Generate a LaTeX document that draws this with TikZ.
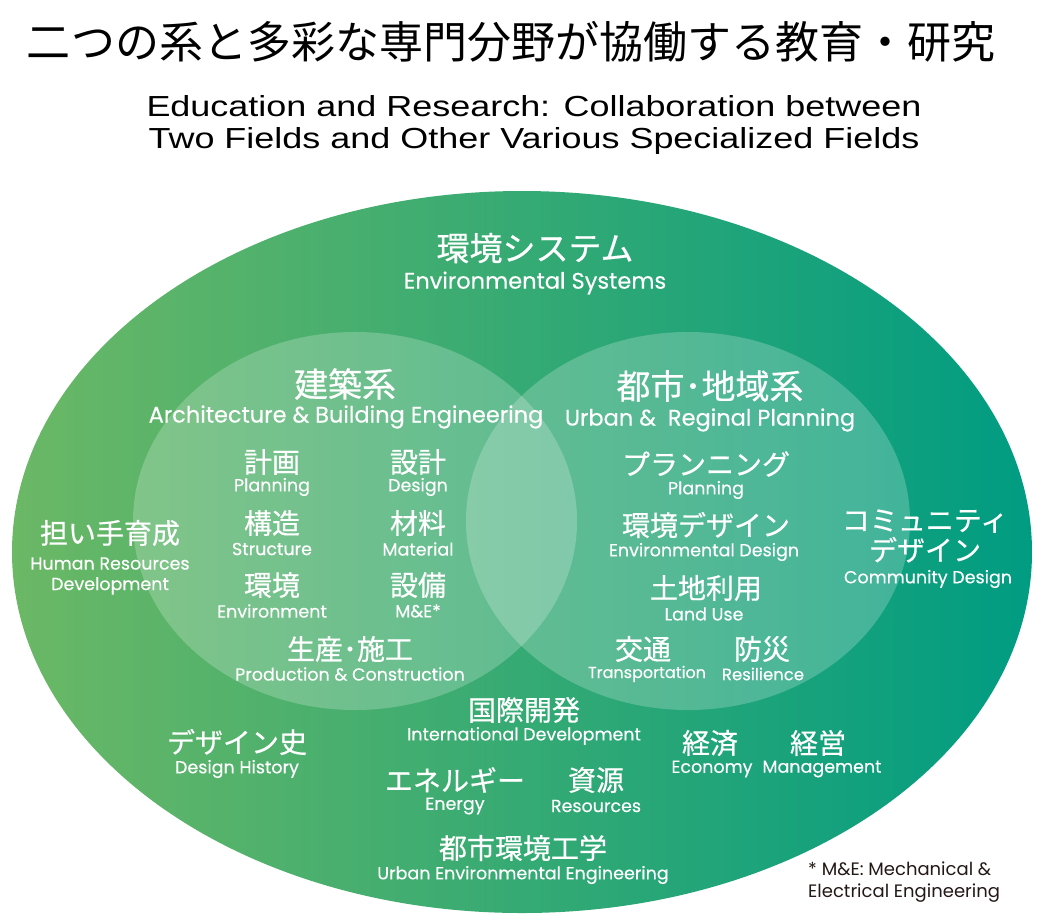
\documentclass[tikz,border=0pt]{standalone}
\usepackage{fontspec}
\newfontfamily\titlefont{Noto Sans CJK JP}
\newfontfamily\jpfont[FakeBold=0.5]{Noto Sans CJK JP}
\newfontfamily\enfont[FakeBold=0.3]{Poppins}
\newfontfamily\notefont{Poppins}
\newfontfamily\subfont[FakeStretch=1.24]{Liberation Sans}
\definecolor{outerL}{HTML}{6BB865}
\definecolor{outerM}{HTML}{08A970}
\definecolor{outerR}{HTML}{009C82}
\definecolor{noteText}{HTML}{231815}

\tikzset{
  jp/.style={text=white, inner sep=0pt, font=\jpfont\fontsize{28}{31}\selectfont},
  jpbig/.style={jp, font=\jpfont\fontsize{34}{37}\selectfont},
  en/.style={text=white, inner sep=0pt, font=\enfont\fontsize{17.5}{20.5}\selectfont},
  enbig/.style={en, font=\enfont\fontsize{22.5}{25}\selectfont},
  field/.style={fill=white, fill opacity=0.22},
}

\begin{document}
\begin{tikzpicture}[x=1pt, y=-1pt]
\useasboundingbox (0,0) rectangle (1040,913);

% Title and subtitle
\node[inner sep=0pt, font=\titlefont\fontsize{44}{48}\selectfont] (title) at (511,42) {二つの系と多彩な専門分野が協働する教育・研究};
\node[inner sep=0pt, align=center, font=\subfont\fontsize{29}{32}\selectfont] (subtitle) at (534,125)
  {Education and Research: Collaboration between\\Two Fields and Other Various Specialized Fields};

% Draw the big ellipse with the green gradient
\shade[left color=outerL, middle color=outerM, right color=outerR]
  (522,552) ellipse [x radius=510, y radius=361];

% Draw the two fields
\fill[field] (355,521) ellipse [x radius=222, y radius=189];
\fill[field] (688,521) ellipse [x radius=222, y radius=189];

% Environmental systems
\node[jpbig, font=\jpfont\fontsize{33}{36}\selectfont] (envsys) at (535,248) {環境システム};
\node[enbig] (envsysEn) at (535,283) {Environmental Systems};

% Architecture field
\node[jpbig] (arch) at (345,384) {建築系};
\node[enbig] (archEn) at (346,417) {Architecture \& Building Engineering};
\node[jp] (plan) at (272,462) {計画};
\node[en] (planEn) at (272,487) {Planning};
\node[jp] (design) at (418,462) {設計};
\node[en] (designEn) at (418,487) {Design};
\node[jp] (struct) at (272,523) {構造};
\node[en] (structEn) at (272,549) {Structure};
\node[jp] (mater) at (418,523) {材料};
\node[en] (materEn) at (418,549) {Material};
\node[jp] (envir) at (272,585) {環境};
\node[en] (envirEn) at (272,611) {Environment};
\node[jp] (mande) at (418,585) {設備};
\node[en] (mandeEn) at (418,611) {M\&E*};
\node[jp] (prod) at (350,649) {生産･施工};
\node[en] (prodEn) at (350,674) {Production \& Construction};

% Urban field
\node[jpbig] (urban) at (710,386) {都市･地域系};
\node[enbig] (urbanEn) at (710,420) {Urban \&~ Reginal Planning};
\node[jp] (uplan) at (706,464) {プランニング};
\node[en] (uplanEn) at (706,490) {Planning};
\node[jp] (envdes) at (706,525) {環境デザイン};
\node[en] (envdesEn) at (704,552) {Environmental Design};
\node[jp] (land) at (706,588) {土地利用};
\node[en] (landEn) at (704,614) {Land Use};
\node[jp] (trans) at (643,649) {交通};
\node[en, font=\enfont\fontsize{16}{19}\selectfont] (transEn) at (647,674) {Transportation};
\node[jp] (resil) at (762,649) {防災};
\node[en, font=\enfont\fontsize{16.5}{19}\selectfont] (resilEn) at (763,674) {Resilience};

% Other fields around
\node[jp] (human) at (110,533) {担い手育成};
\node[en, align=center] (humanEn) at (110,576) {Human Resources\\Development};
\node[jp, align=center, font=\jpfont\fontsize{28}{30}\selectfont] (commu) at (925,536) {コミュニティ\\デザイン};
\node[en] (commuEn) at (928,579) {Community Design};
\node[jp] (intl) at (524,710) {国際開発};
\node[en] (intlEn) at (524,736) {International Development};
\node[jp] (history) at (237,742) {デザイン史};
\node[en] (historyEn) at (237,769) {Design History};
\node[jp] (econ) at (710,743) {経済};
\node[en] (econEn) at (712,769) {Economy};
\node[jp] (manage) at (818,743) {経営};
\node[en] (manageEn) at (822,769) {Management};
\node[jp] (energy) at (455,780) {エネルギー};
\node[en] (energyEn) at (455,806) {Energy};
\node[jp] (resour) at (596,780) {資源};
\node[en] (resourEn) at (596,806) {Resources};
\node[jp] (urbeng) at (523,848) {都市環境工学};
\node[en] (urbengEn) at (523,875) {Urban Environmental Engineering};

% Footnote
\node[inner sep=0pt, text=noteText, align=left, anchor=west, font=\notefont\fontsize{18}{22}\selectfont] (note) at (808,882)
  {* M\&E: Mechanical \&\\Electrical Engineering};
\end{tikzpicture}
\end{document}
